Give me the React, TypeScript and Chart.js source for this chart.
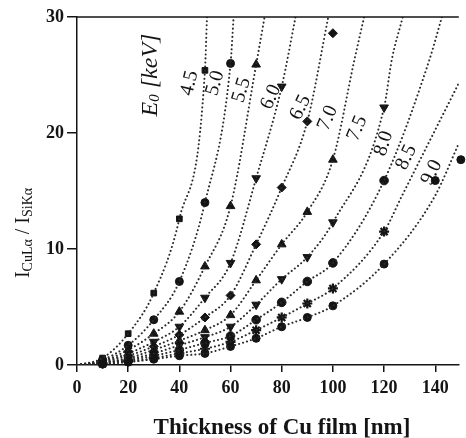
import React, { useEffect, useRef } from 'react';
import { Chart, registerables } from 'chart.js';

Chart.register(...registerables);

// Thickness of Cu film [nm] at which the measured points sit
const THICKNESS = [10, 20, 30, 40, 50, 60, 70, 80, 90, 100, 120, 140, 150];

// Measured intensity ratios I(CuLa)/I(SiKa) for each primary energy E0 [keV]
const E45 = [0.6, 2.7, 6.2, 12.6, 25.4];
const E50 = [0.45, 1.7, 3.9, 7.2, 14.0, 26.0];
const E55 = [0.35, 1.3, 2.7, 4.6, 8.5, 13.7, 25.9];
const E60 = [0.3, 1.0, 2.0, 3.3, 5.8, 8.8, 16.1, 24.0];
const E65 = [0.25, 0.8, 1.6, 2.6, 4.1, 6.0, 10.4, 15.3, 21.0, 28.6];
const E70 = [0.2, 0.6, 1.3, 2.1, 3.0, 4.3, 7.3, 10.4, 13.2, 17.7];
const E75 = [0.2, 0.5, 1.0, 1.7, 2.4, 3.3, 5.2, 7.4, 9.3, 12.3, 22.2];
const E80 = [0.15, 0.4, 0.8, 1.3, 1.9, 2.5, 3.9, 5.4, 7.2, 8.8, 15.9];
const E85 = [0.1, 0.3, 0.6, 1.0, 1.4, 2.0, 3.0, 4.1, 5.3, 6.6, 11.5];
const E90 = [0.1, 0.25, 0.5, 0.8, 1.0, 1.6, 2.3, 3.3, 4.1, 5.1, 8.7, 15.9, 17.7];

// Upper ends of the dotted fit curves: [thickness, ratio]
const TAIL45 = [[50.8, 30]];
const TAIL50 = [[61.2, 30]];
const TAIL55 = [[73.3, 30]];
const TAIL60 = [[85.4, 30]];
const TAIL65 = [[98.2, 30]];
const TAIL70 = [[108.4, 26.3], [112.2, 30]];
const TAIL75 = [[123, 26.3], [127.3, 30]];
const TAIL80 = [[137.7, 26.3], [142.6, 30]];
const TAIL85 = [[126.8, 14.5], [149.2, 24.3]];
const TAIL90 = [[139.7, 14.5], [149.2, 19.1]];

// Curve labels
const ENERGY_LABELS = ['4.5', '5.0', '5.5', '6.0', '6.5', '7.0', '7.5', '8.0', '8.5', '9.0'];
const LABEL_X = [44.0, 54.0, 64.3, 75.8, 87.3, 98.0, 109.5, 119.9, 128.7, 138.6];
const LABEL_Y = [24.3, 24.3, 23.7, 23.1, 22.2, 21.3, 20.4, 19.1, 17.9, 16.6];
const LABEL_ANGLE = [-76, -74, -73, -66, -64, -67, -67, -72, -65, -63];

const X_MIN = 0;
const X_MAX = 149.2;
const Y_MIN = 0;
const Y_MAX = 30;
const X_STEP = 20;
const Y_STEP = 10;

const SERIES = [
  { values: E45, fitCount: 5, tail: TAIL45, style: 'rect', rot: 0, r: 4 },
  { values: E50, fitCount: 6, tail: TAIL50, style: 'circle', rot: 0, r: 4 },
  { values: E55, fitCount: 7, tail: TAIL55, style: 'triangle', rot: 0, r: 5 },
  { values: E60, fitCount: 8, tail: TAIL60, style: 'triangle', rot: 180, r: 5 },
  { values: E65, fitCount: 9, tail: TAIL65, style: 'rectRot', rot: 0, r: 4.5 },
  { values: E70, fitCount: 10, tail: TAIL70, style: 'triangle', rot: 0, r: 5 },
  { values: E75, fitCount: 11, tail: TAIL75, style: 'triangle', rot: 180, r: 5 },
  { values: E80, fitCount: 11, tail: TAIL80, style: 'circle', rot: 0, r: 4.3 },
  { values: E85, fitCount: 11, tail: TAIL85, style: 'star', rot: 0, r: 5 },
  { values: E90, fitCount: 11, tail: TAIL90, style: 'circle', rot: 0, r: 4 },
];

const INK = '#141414';
const FONT = '"Liberation Serif", "DejaVu Serif", serif';

const annotate = {
  id: 'annotate',
  afterDraw(chart: any) {
    const { ctx, chartArea: ca, scales } = chart;
    const xs = scales.x;
    const ys = scales.y;
    ctx.save();
    // top frame line
    ctx.strokeStyle = INK;
    ctx.lineWidth = 1.5;
    ctx.beginPath();
    ctx.moveTo(ca.left, ca.top);
    ctx.lineTo(ca.right, ca.top);
    ctx.stroke();

    ctx.fillStyle = INK;
    ctx.textAlign = 'center';
    ctx.textBaseline = 'middle';

    // curve labels
    ctx.font = `20px ${FONT}`;
    ENERGY_LABELS.forEach((t, i) => {
      const px = xs.getPixelForValue(LABEL_X[i]);
      const py = ys.getPixelForValue(LABEL_Y[i]);
      ctx.save();
      ctx.translate(px, py);
      ctx.rotate((LABEL_ANGLE[i] * Math.PI) / 180);
      ctx.fillText(t, 0, 0);
      ctx.restore();
    });

    const drawParts = (cx: number, cy: number, parts: any[]) => {
      ctx.save();
      ctx.translate(cx, cy);
      ctx.rotate(-Math.PI / 2);
      ctx.textAlign = 'left';
      let total = 0;
      parts.forEach((p) => {
        ctx.font = p.font;
        total += ctx.measureText(p.t).width;
      });
      let x = -total / 2;
      parts.forEach((p) => {
        ctx.font = p.font;
        ctx.fillText(p.t, x, p.dy);
        x += ctx.measureText(p.t).width;
      });
      ctx.restore();
    };

    // E0 [keV]
    drawParts(xs.getPixelForValue(28.7), ys.getPixelForValue(25.0), [
      { t: 'E', font: `italic 24px ${FONT}`, dy: 0 },
      { t: '0', font: `italic 15px ${FONT}`, dy: 5 },
      { t: ' [keV]', font: `italic 24px ${FONT}`, dy: 0 },
    ]);

    // y axis title
    drawParts(ca.left - 53, ca.bottom - 132, [
      { t: 'I', font: `20px ${FONT}`, dy: 0 },
      { t: 'CuLα', font: `14px ${FONT}`, dy: 4 },
      { t: ' / ', font: `20px ${FONT}`, dy: 0 },
      { t: 'I', font: `20px ${FONT}`, dy: 0 },
      { t: 'SiKα', font: `14px ${FONT}`, dy: 4 },
    ]);

    // x axis title
    ctx.textAlign = 'center';
    ctx.font = `bold 23px ${FONT}`;
    ctx.fillText('Thickness of Cu film [nm]', ca.left + 205, ca.bottom + 63);
    ctx.restore();
  },
};

export default function App() {
  const ref = useRef<HTMLCanvasElement | null>(null);

  useEffect(() => {
    document.body.style.margin = '0';
    const canvas = ref.current;
    if (!canvas) return;

    const datasets: any[] = [];
    SERIES.forEach((s) => {
      const fit: any[] = [{ x: 0, y: 0 }];
      for (let i = 0; i < s.fitCount && i < s.values.length; i++) {
        fit.push({ x: THICKNESS[i], y: s.values[i] });
      }
      s.tail.forEach(([x, y]) => fit.push({ x, y }));
      datasets.push({
        data: fit,
        borderColor: '#2a2a2a',
        borderWidth: 2,
        borderDash: [0.1, 4],
        borderCapStyle: 'round',
        pointRadius: 0,
        cubicInterpolationMode: 'monotone',
        fill: false,
      });
      datasets.push({
        data: s.values.map((v, i) => ({ x: THICKNESS[i], y: v })),
        showLine: false,
        pointStyle: s.style,
        pointRotation: s.rot,
        pointRadius: s.r,
        pointBackgroundColor: INK,
        pointBorderColor: INK,
        pointBorderWidth: s.style === 'star' ? 2.2 : 1,
        clip: false,
      });
    });

    const chart = new Chart(canvas, {
      type: 'line',
      data: { datasets },
      options: {
        responsive: false,
        animation: false,
        devicePixelRatio: 1,
        layout: { padding: { top: 17, right: 0, left: 0, bottom: 0 } },
        plugins: { legend: { display: false }, tooltip: { enabled: false }, title: { display: false } },
        scales: {
          x: {
            type: 'linear',
            min: X_MIN,
            max: X_MAX,
            afterFit: (scale: any) => {
              scale.height = 73;
            },
            grid: { drawOnChartArea: false, drawTicks: true, tickLength: 7, color: INK, lineWidth: 1.5 },
            border: { display: true, color: INK, width: 1.5 },
            ticks: {
              stepSize: X_STEP,
              includeBounds: false,
              maxRotation: 0,
              autoSkip: false,
              padding: 6,
              color: INK,
              font: { family: FONT, size: 18, weight: 'bold' },
              callback: (v: any) => String(v),
            },
          },
          y: {
            type: 'linear',
            min: Y_MIN,
            max: Y_MAX,
            afterFit: (scale: any) => {
              scale.width = 77;
            },
            grid: { drawOnChartArea: false, drawTicks: true, tickLength: 10, color: INK, lineWidth: 1.5 },
            border: { display: true, color: INK, width: 1.5 },
            ticks: {
              stepSize: Y_STEP,
              includeBounds: false,
              padding: 3,
              color: INK,
              font: { family: FONT, size: 18, weight: 'bold' },
              callback: (v: any) => String(v),
            },
          },
        },
      },
      plugins: [annotate],
    } as any);

    return () => chart.destroy();
  }, []);

  return (
    <div style={{ width: 466, height: 438, background: '#fff' }}>
      <canvas ref={ref} width={466} height={438} style={{ display: 'block' }} />
    </div>
  );
}
